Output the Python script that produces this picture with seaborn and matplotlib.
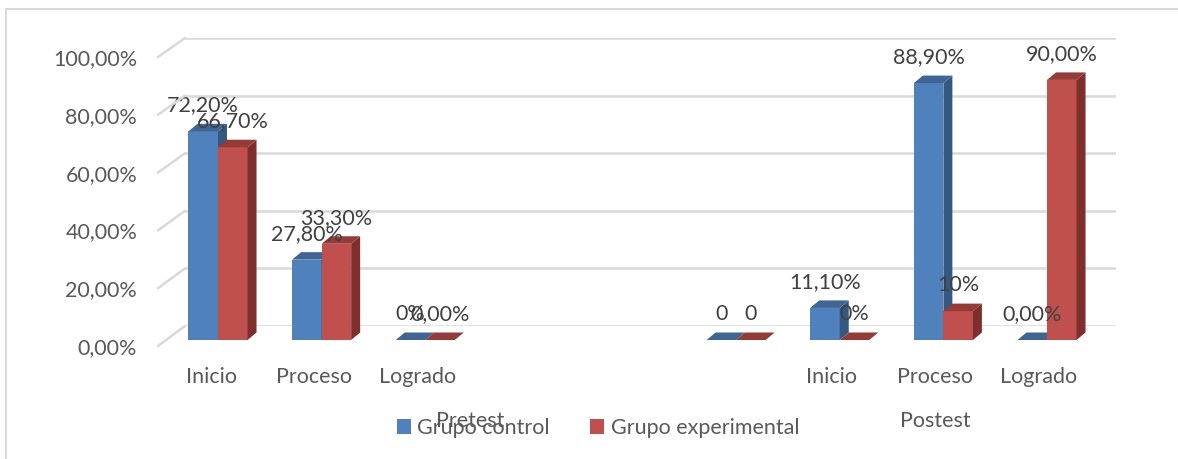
import numpy as np
import pandas as pd
import matplotlib.pyplot as plt
import seaborn as sns
from matplotlib.patches import Polygon, ConnectionPatch
from matplotlib.lines import Line2D

# Datos
categorias = ["Inicio", "Proceso", "Logrado", "", "", "", "Inicio", "Proceso", "Logrado"]
grupos = ["Pretest", "Postest"]
grupo_inicio = [0, 6]
grupo_fin = [5, 8]
series = ["Grupo control", "Grupo experimental"]
control = [72.2, 27.8, 0, np.nan, np.nan, 0, 11.1, 88.9, 0]
experimental = [66.7, 33.3, 0, np.nan, np.nan, 0, 0, 10, 90]
etiquetas_control = ["72,20%", "27,80%", "0%", "", "", "0", "11,10%", "88,90%", "0,00%"]
etiquetas_experimental = ["66,70%", "33,30%", "0,00%", "", "", "0", "0%", "10%", "90,00%"]
yticks = [0, 20, 40, 60, 80, 100]
ytick_labels = ["0,00%", "20,00%", "40,00%", "60,00%", "80,00%", "100,00%"]

colores = ["#4F81BD", "#C0504D"]
lados = ["#34587F", "#7E2F2D"]
techos = ["#3E6594", "#943B38"]

sns.set_style("white")
plt.rcParams['font.family'] = ['Lato', 'DejaVu Sans']
fs = 15.5

W, H = 1178, 459


def rect(l, t, r, b):
    return [l / W, 1 - b / H, (r - l) / W, (b - t) / H]


df = pd.DataFrame({
    'pos': list(range(9)) * 2,
    'valor': control + experimental,
    'serie': [series[0]] * 9 + [series[1]] * 9,
}).dropna()

fig = plt.figure(figsize=(W / 100, H / 100), dpi=100)
fig.patch.set_facecolor('white')

# pared del fondo con las lineas de division
ax_w = fig.add_axes(rect(185, 38, 1116, 326))
ax_w.set_xlim(0, 1)
ax_w.set_ylim(0, 100)
for v in yticks:
    ax_w.axhline(v, color='#D9D9D9', lw=1.8)
ax_w.axis('off')

# plano frontal: etiquetas de ejes
x0f = (158 - 211) / 103.5
x1f = (1089 - 211) / 103.5
ax_f = fig.add_axes(rect(158, 57, 1089, 346))
ax_f.set_xlim(x0f, x1f)
ax_f.set_ylim(0, 100)
ax_f.patch.set_visible(False)
for s in ax_f.spines.values():
    s.set_visible(False)
ax_f.set_yticks(yticks, ytick_labels)
ax_f.set_xticks(range(len(categorias)), categorias)
ax_f.tick_params(axis='y', length=0, pad=15, labelsize=fs, labelcolor='#595959')
ax_f.tick_params(axis='x', length=0, pad=15, labelsize=fs, labelcolor='#595959')
for g, a, b in zip(grupos, grupo_inicio, grupo_fin):
    ax_f.text((a + b) / 2, 1 - (421 - 57) / (346 - 57), g, transform=ax_f.get_xaxis_transform(),
              ha='center', va='center', fontsize=fs, color='#595959')

# diagonales del piso lateral
for v in yticks:
    con = ConnectionPatch(xyA=(0, v), coordsA=ax_f.get_yaxis_transform(),
                          xyB=(0, v), coordsB=ax_w.get_yaxis_transform(),
                          color='#D9D9D9', lw=1.8)
    fig.add_artist(con)

# barras
ax_b = fig.add_axes(rect(161, 51, 1104, 340))
sns.barplot(data=df, x='pos', y='valor', hue='serie', order=list(range(9)), hue_order=series,
            palette=colores, saturation=1, width=0.57, linewidth=0, ax=ax_b)
ax_b.set_xlim(-0.55, 8.55)
ax_b.set_ylim(0, 100)
ax_b.axis('off')
leg = ax_b.get_legend()
handles, labels = ax_b.get_legend_handles_labels()
leg.remove()

ddx = 9 / (943 / 9.1)
ddy = 7.5 / (289 / 100)
etiquetas = [etiquetas_control, etiquetas_experimental]
for k, cont in enumerate(ax_b.containers):
    for bar in cont:
        x0 = bar.get_x()
        x1 = x0 + bar.get_width()
        h = bar.get_height()
        bar.set_zorder(2 + k)
        lado = Polygon([(x1, 0), (x1 + ddx, ddy), (x1 + ddx, h + ddy), (x1, h)],
                       closed=True, fc=lados[k], ec='none', zorder=2 + k, clip_on=False)
        techo = Polygon([(x0, h), (x1, h), (x1 + ddx, h + ddy), (x0 + ddx, h + ddy)],
                        closed=True, fc=techos[k], ec='none', zorder=2 + k, clip_on=False)
        ax_b.add_patch(lado)
        ax_b.add_patch(techo)
        i = int(round(x0 + bar.get_width() / 2 + (0.1425 if k == 0 else -0.1425)))
        ax_b.annotate(etiquetas[k][i], ((x0 + x1) / 2, h), xytext=(0, 18.7),
                      textcoords='offset points', ha='center', va='center',
                      fontsize=fs, color='#404040', zorder=5, annotation_clip=False)

fig.legend(handles, labels, loc='center', bbox_to_anchor=(598 / W, 1 - 428 / H), ncol=2,
           frameon=False, fontsize=fs, handlelength=0.65, handleheight=0.65,
           handletextpad=0.3, columnspacing=1.9, labelcolor='#595959')

# borde recortado de la imagen
fig.add_artist(Line2D([6 / W, 6 / W], [0, 1 - 9 / H], transform=fig.transFigure, color='#D9D9D9', lw=1.5))
fig.add_artist(Line2D([6 / W, 1], [1 - 9 / H, 1 - 9 / H], transform=fig.transFigure, color='#D9D9D9', lw=1.5))

plt.savefig("out.png", dpi=100)
